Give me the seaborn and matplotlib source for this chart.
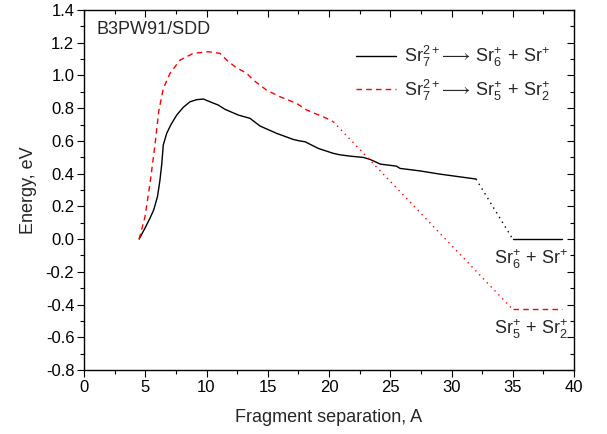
import matplotlib
matplotlib.use("Agg")
import matplotlib.pyplot as plt
from matplotlib.lines import Line2D
from matplotlib.ticker import MultipleLocator
import matplotlib.markers as mmarkers
import seaborn as sns
import pandas as pd

# ---- data ----
black_x = [4.5, 5.0, 5.4, 5.7, 6.0, 6.2, 6.35, 6.47, 6.75, 7.1, 7.57, 8.1, 8.65, 9.2, 9.74, 10.29,
           10.96, 11.51, 12.6, 13.55, 14.37, 15.0, 15.73, 17.08, 17.6, 18.04, 19.13,
           20.35, 20.9, 21.71, 22.8, 23.35, 24.2, 25.5, 25.8, 27.4, 29.06, 32.0]
black_y = [0.0, 0.07, 0.13, 0.18, 0.26, 0.36, 0.46, 0.575, 0.646, 0.70, 0.758, 0.805, 0.839, 0.852, 0.856, 0.839,
           0.819, 0.793, 0.758, 0.738, 0.691, 0.67, 0.646, 0.609, 0.60, 0.595, 0.554,
           0.524, 0.515, 0.507, 0.499, 0.487, 0.458, 0.446, 0.432, 0.417, 0.397, 0.367]
black_link_x = [32.0, 35.0]
black_link_y = [0.367, 0.0]
black_tail_x = [35.0, 39.0]
black_tail_y = [0.0, 0.0]

red_x = [4.5, 4.98, 5.39, 5.8, 6.1, 6.47, 7.02, 7.84, 8.92, 10.15, 11.1, 11.65,
         12.33, 13.28, 13.82, 14.91, 16.0, 17.36, 18.18, 19.8, 20.35]
red_y = [0.0, 0.136, 0.34, 0.58, 0.78, 0.92, 1.013, 1.094, 1.135, 1.145, 1.135, 1.094,
         1.053, 1.013, 0.972, 0.91, 0.87, 0.829, 0.789, 0.738, 0.717]
red_link_x = [20.35, 35.0]
red_link_y = [0.717, -0.43]
red_tail_x = [35.0, 39.0]
red_tail_y = [-0.43, -0.43]

x_ticks = [0, 5, 10, 15, 20, 25, 30, 35, 40]
y_ticks = [-0.8, -0.6, -0.4, -0.2, 0.0, 0.2, 0.4, 0.6, 0.8, 1.0, 1.2, 1.4]

label_black = r'$\mathrm{Sr}_7^{2+}\!\longrightarrow\,\mathrm{Sr}_6^{+}\,+\,\mathrm{Sr}^{+}$'
label_red = r'$\mathrm{Sr}_7^{2+}\!\longrightarrow\,\mathrm{Sr}_5^{+}\,+\,\mathrm{Sr}_2^{+}$'
end_black = r'$\mathrm{Sr}_6^{+}\,+\,\mathrm{Sr}^{+}$'
end_red = r'$\mathrm{Sr}_5^{+}\,+\,\mathrm{Sr}_2^{+}$'

# ---- style ----
sns.set_theme(style="ticks")
plt.rcParams['font.family'] = ['Liberation Sans', 'DejaVu Sans']
plt.rcParams['mathtext.fontset'] = 'custom'
plt.rcParams['mathtext.rm'] = 'Liberation Sans'
plt.rcParams['mathtext.it'] = 'Liberation Sans:italic'
plt.rcParams['mathtext.bf'] = 'Liberation Sans:bold'

fig = plt.figure(figsize=(6.07, 4.34), dpi=100)
ax = fig.add_axes([84/607, 1 - 370/434, (574-84)/607, (370-10)/434])

def seg(x, y, **kw):
    df = pd.DataFrame({"x": x, "y": y})
    sns.lineplot(data=df, x="x", y="y", sort=False, estimator=None, ax=ax, **kw)

seg(black_x, black_y, color="black", lw=1.0, linestyle="-")
seg(black_link_x, black_link_y, color="black", lw=1.0, linestyle=(0, (1, 3)))
seg(black_tail_x, black_tail_y, color="black", lw=1.0, linestyle="-")
seg(red_x, red_y, color="red", lw=1.0, linestyle=(0, (4, 3)))
seg(red_link_x, red_link_y, color="red", lw=1.0, linestyle=(0, (1, 3)))
seg(red_tail_x, red_tail_y, color="red", lw=1.0, linestyle=(0, (4, 3)))

ax.set_xlim(0, 40)
ax.set_ylim(-0.8, 1.4)
ax.set_xticks(x_ticks)
ax.set_yticks(y_ticks)
ax.set_xticklabels([str(v) for v in x_ticks])
ax.set_yticklabels([f"{v:.1f}" for v in y_ticks])
ax.xaxis.set_minor_locator(MultipleLocator(2.5))
ax.yaxis.set_minor_locator(MultipleLocator(0.1))
ax.tick_params(which="both", top=True, right=True, labelsize=12, colors="black",
               width=0.8, direction="out", pad=2)
ax.tick_params(which="major", length=5)
ax.tick_params(which="minor", length=3)
for s in ax.spines.values():
    s.set_linewidth(1.0)
    s.set_color("black")

# top/right ticks inward
for t in ax.xaxis.get_major_ticks() + ax.xaxis.get_minor_ticks():
    t.tick2line.set_marker(mmarkers.TICKDOWN)
for t in ax.yaxis.get_major_ticks() + ax.yaxis.get_minor_ticks():
    t.tick2line.set_marker(mmarkers.TICKLEFT)

ax.set_xlabel("Fragment separation, A", fontsize=13, labelpad=10)
ax.set_ylabel("Energy, eV", fontsize=13, labelpad=6)

ax.text(0.026, 0.945, "B3PW91/SDD", transform=ax.transAxes, fontsize=13,
        ha="left", va="center")

handles = [Line2D([], [], color="black", lw=1.0, linestyle="-"),
           Line2D([], [], color="red", lw=1.0, linestyle=(0, (4, 3)))]
ax.legend(handles, [label_black, label_red], loc="upper left",
          bbox_to_anchor=(0.555, 0.905), frameon=False, fontsize=13,
          borderpad=0, borderaxespad=0,
          handlelength=2.2, handletextpad=0.45, labelspacing=0.45)

ax.text(36.5, -0.12, end_black, fontsize=13, ha="center", va="center")
ax.text(36.5, -0.55, end_red, fontsize=13, ha="center", va="center")

fig.savefig("out.png", dpi=100)
